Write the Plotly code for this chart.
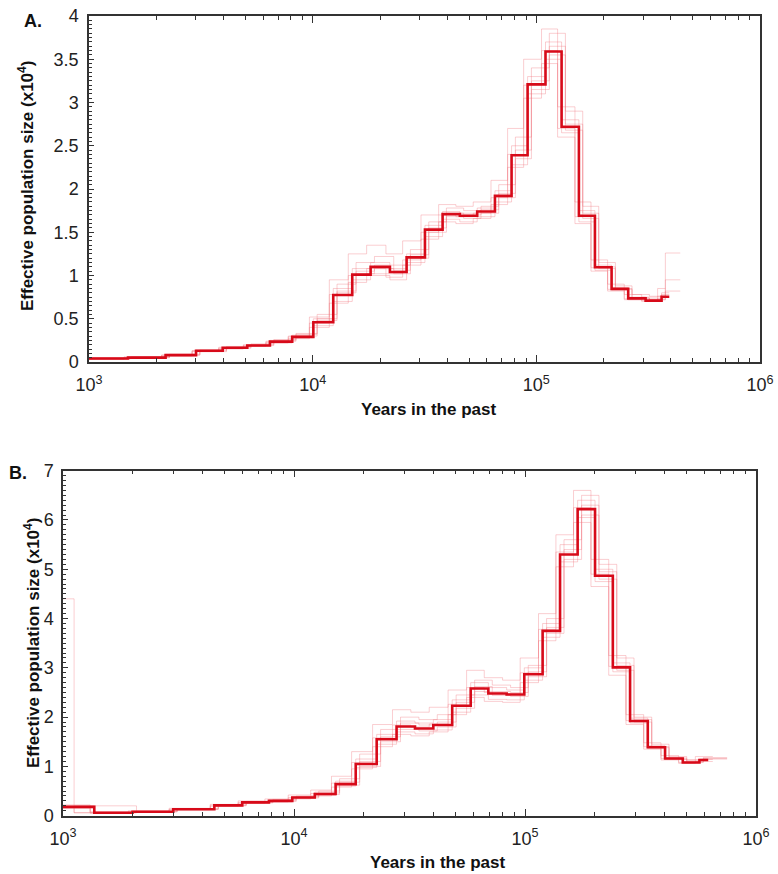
import plotly.graph_objects as go

# ---------------- Panel A data ----------------
times_a = [1000, 1494, 2200, 3010, 3960, 5100, 6440, 8100, 10070, 12360, 15030, 18160, 22150,
           26300, 31770, 38100, 45500, 54400, 65300, 77500, 91400, 109900, 129700, 155000,
           182800, 217000, 257500, 308000, 363000, 393000]
ne_a = [0.04, 0.05, 0.08, 0.13, 0.165, 0.19, 0.235, 0.29, 0.46, 0.775, 1.01, 1.10, 1.04, 1.21,
        1.53, 1.71, 1.69, 1.74, 1.92, 2.39, 3.21, 3.59, 2.72, 1.69, 1.095, 0.845, 0.736, 0.71, 0.755]

grid_a2 = [1000, 1550, 2290, 3130, 4120, 5300, 6700, 8420, 10470, 12850, 15630, 18890, 23040,
           27350, 33040, 39620, 47320, 56580, 67910, 80600, 95060, 114300, 134900, 161200,
           190100, 225700, 267800, 320300, 377500, 440000]
grid_a3 = [1000, 1434, 2112, 2890, 3800, 4900, 6180, 7780, 9670, 11870, 14430, 17430, 21260,
           25250, 30500, 36580, 43680, 52220, 62690, 74400, 87740, 105500, 124500, 148800,
           175500, 208300, 247200, 295700, 348500, 377300]

boot_a1 = [0.05,0.06,0.09,0.14,0.18,0.21,0.26,0.33,0.55,0.90,1.15,1.22,1.12,1.30,1.62,1.78,1.75,1.80,2.05,2.60,3.40,3.80,2.90,1.80,1.15,0.88,0.78,0.76,0.82]
boot_a2 = [0.03,0.05,0.07,0.12,0.15,0.18,0.22,0.27,0.40,0.68,0.92,1.02,0.98,1.12,1.42,1.62,1.60,1.66,1.82,2.25,3.05,3.45,2.60,1.60,1.05,0.82,0.72,0.70,0.74]
boot_a3 = [0.04,0.06,0.09,0.14,0.17,0.20,0.25,0.31,0.50,0.85,1.08,1.15,1.08,1.25,1.58,1.74,1.72,1.78,1.98,2.50,3.30,3.70,2.80,1.75,1.12,0.86,0.75,0.73,0.80]
boot_a4 = [0.04,0.05,0.08,0.12,0.16,0.19,0.24,0.30,0.48,0.80,1.02,1.08,1.02,1.20,1.50,1.68,1.66,1.72,1.90,2.35,3.15,3.55,2.68,1.66,1.08,0.84,0.74,0.72,1.26]
boot_a5 = [0.05,0.06,0.08,0.13,0.17,0.20,0.24,0.30,0.52,0.95,1.25,1.35,1.25,1.40,1.70,1.82,1.80,1.85,2.10,2.70,3.50,3.85,2.95,1.85,1.18,0.90,0.78,0.75,0.85]
boot_a6 = [0.03,0.04,0.07,0.12,0.16,0.18,0.22,0.28,0.42,0.70,0.95,1.00,0.95,1.15,1.45,1.65,1.62,1.68,1.85,2.28,3.10,3.50,2.65,1.62,1.06,0.83,0.72,0.70,0.78]
boot_a7 = [0.04,0.05,0.08,0.13,0.17,0.20,0.25,0.32,0.50,0.82,1.05,1.12,1.06,1.24,1.55,1.72,1.70,1.76,1.95,2.45,3.25,3.65,2.75,1.72,1.10,0.85,0.74,0.72,0.95]
boot_a8 = [0.04,0.05,0.08,0.13,0.16,0.19,0.23,0.29,0.45,0.78,1.00,1.08,1.02,1.18,1.50,1.70,1.68,1.72,1.90,2.40,3.20,3.60,2.70,1.68,1.09,0.84,0.73,0.71,0.76]

# ---------------- Panel B data ----------------
times_b = [1000, 1366, 2000, 3000, 4520, 5970, 7790, 9830, 12300, 15140, 18500, 22800, 27800,
           33400, 40100, 48400, 58200, 69400, 83300, 99300, 119200, 141800, 169000, 201000,
           240000, 285000, 340000, 404000, 482000, 569000, 621000]
ne_b = [0.18, 0.06, 0.08, 0.13, 0.21, 0.27, 0.30, 0.37, 0.44, 0.64, 1.05, 1.55, 1.81, 1.77, 1.84,
        2.23, 2.58, 2.48, 2.46, 2.87, 3.75, 5.30, 6.22, 4.87, 3.01, 1.92, 1.39, 1.16, 1.08, 1.13]

grid_b2 = [1000, 1117, 2080, 3120, 4700, 6210, 8100, 10220, 12790, 15750, 19240, 23710, 28910,
           34740, 41700, 50340, 60530, 72180, 86630, 103300, 124000, 147500, 175800, 209000,
           249600, 296400, 353600, 420200, 501300, 591800, 750000]
grid_b3 = [1000, 1311, 1920, 2880, 4340, 5730, 7480, 9440, 11810, 14530, 17760, 21890, 26690,
           32060, 38500, 46460, 55870, 66620, 79970, 95330, 114400, 136100, 162200, 193000,
           230400, 273600, 326400, 387800, 462700, 546200, 650000]

boot_b1 = [4.40,0.20,0.09,0.14,0.22,0.29,0.33,0.40,0.50,0.75,1.25,1.75,2.00,1.95,2.05,2.45,2.75,2.65,2.60,3.05,4.00,5.60,6.50,5.10,3.20,2.00,1.45,1.20,1.12,1.18]
boot_b2 = [0.15,0.05,0.07,0.12,0.19,0.25,0.28,0.34,0.40,0.58,0.95,1.40,1.65,1.62,1.70,2.05,2.40,2.32,2.30,2.70,3.55,5.05,5.95,4.65,2.85,1.85,1.35,1.13,1.06,1.10]
boot_b3 = [0.20,0.07,0.09,0.14,0.22,0.28,0.32,0.39,0.48,0.70,1.15,1.65,1.92,1.88,1.95,2.35,2.70,2.60,2.55,3.00,3.90,5.50,6.40,5.00,3.10,1.98,1.42,1.18,1.10,1.15]
boot_b4 = [0.17,0.06,0.08,0.13,0.20,0.26,0.29,0.36,0.43,0.62,1.00,1.50,1.75,1.72,1.80,2.18,2.52,2.44,2.42,2.82,3.70,5.20,6.10,4.80,2.95,1.90,1.38,1.15,1.08,1.15]
boot_b5 = [0.22,0.08,0.10,0.15,0.23,0.30,0.34,0.42,0.52,0.80,1.30,1.85,2.15,2.10,2.20,2.55,2.95,2.80,2.75,3.20,4.10,5.70,6.60,5.20,3.25,2.05,1.48,1.22,1.14,1.20]
boot_b6 = [0.16,0.05,0.07,0.12,0.19,0.25,0.28,0.35,0.41,0.60,0.98,1.45,1.70,1.66,1.74,2.10,2.45,2.36,2.35,2.75,3.62,5.15,6.05,4.75,2.92,1.88,1.36,1.14,1.07,1.12]
boot_b7 = [0.19,0.06,0.08,0.13,0.21,0.27,0.31,0.38,0.46,0.68,1.10,1.60,1.88,1.84,1.90,2.30,2.62,2.52,2.50,2.92,3.82,5.40,6.30,4.95,3.05,1.95,1.40,1.17,1.09,1.16]
boot_b8 = [0.18,0.06,0.08,0.13,0.21,0.27,0.30,0.37,0.45,0.66,1.08,1.58,1.84,1.80,1.86,2.26,2.60,2.50,2.48,2.90,3.78,5.35,6.25,4.90,3.03,1.93,1.40,1.16,1.08,1.14]

x_tickvals = [1000, 10000, 100000, 1000000]
x_ticktext = ["10<sup>3</sup>", "10<sup>4</sup>", "10<sup>5</sup>", "10<sup>6</sup>"]
ya_tickvals = [0, 0.5, 1, 1.5, 2, 2.5, 3, 3.5, 4]
ya_ticktext = ["0", "0.5", "1", "1.5", "2", "2.5", "3", "3.5", "4"]
yb_tickvals = [0, 1, 2, 3, 4, 5, 6, 7]
yb_ticktext = ["0", "1", "2", "3", "4", "5", "6", "7"]

FONT = "Liberation Sans, Arial, Helvetica, sans-serif"
MAIN_RED = "rgb(215,10,25)"
BOOT = "rgba(240,110,120,0.38)"

W, H = 778, 874
fig = go.Figure()


def step(x, y):
    return list(x), list(y) + [y[-1]]


boots_a = [(grid_a2, boot_a1), (grid_a3, boot_a2), (times_a, boot_a3), (grid_a2, boot_a4),
           (grid_a3, boot_a5), (times_a, boot_a6), (grid_a2, boot_a7), (grid_a3, boot_a8)]
for g, v in boots_a:
    xs, ys = step(g, v)
    fig.add_trace(go.Scatter(x=xs, y=ys, mode="lines", line=dict(color=BOOT, width=0.9, shape="hv"),
                             xaxis="x", yaxis="y", showlegend=False, hoverinfo="skip"))
xs, ys = step(times_a, ne_a)
fig.add_trace(go.Scatter(x=xs, y=ys, mode="lines", line=dict(color=MAIN_RED, width=2.6, shape="hv"),
                         xaxis="x", yaxis="y", showlegend=False))

boots_b = [(grid_b2, boot_b1), (grid_b3, boot_b2), (times_b, boot_b3), (grid_b2, boot_b4),
           (grid_b3, boot_b5), (times_b, boot_b6), (grid_b2, boot_b7), (grid_b3, boot_b8)]
for g, v in boots_b:
    xs, ys = step(g, v)
    fig.add_trace(go.Scatter(x=xs, y=ys, mode="lines", line=dict(color=BOOT, width=0.9, shape="hv"),
                             xaxis="x2", yaxis="y2", showlegend=False, hoverinfo="skip"))
xs, ys = step(times_b, ne_b)
fig.add_trace(go.Scatter(x=xs, y=ys, mode="lines", line=dict(color=MAIN_RED, width=2.6, shape="hv"),
                         xaxis="x2", yaxis="y2", showlegend=False))

AX = "#333333"
xcommon = dict(type="log", range=[3, 6], tickvals=x_tickvals, ticktext=x_ticktext,
               ticks="inside", ticklen=7, tickwidth=1, tickcolor=AX,
               showline=True, linecolor=AX, linewidth=1.5, mirror="ticks",
               showgrid=False, zeroline=False, ticklabelstandoff=6,
               minor=dict(ticks="inside", ticklen=4, tickcolor=AX, dtick="D1", showgrid=False),
               tickfont=dict(family=FONT, size=18, color="#222"), automargin=False)
ycommon = dict(ticks="inside", ticklen=5, tickwidth=1, tickcolor=AX,
               showline=True, linecolor=AX, linewidth=1.5, mirror=True,
               showgrid=False, zeroline=False,
               tickfont=dict(family=FONT, size=18, color="#222"), automargin=False)

fig.update_layout(
    width=W, height=H, margin=dict(l=0, r=0, t=0, b=0),
    paper_bgcolor="white", plot_bgcolor="white",
    xaxis=dict(xcommon, domain=[89 / W, 760 / W], anchor="y"),
    yaxis=dict(ycommon, domain=[1 - 362 / H, 1 - 16 / H], anchor="x", range=[0, 4],
               tickvals=ya_tickvals, ticktext=ya_ticktext, ticklabelstandoff=5,
               minor=dict(ticks="inside", ticklen=3, tickcolor=AX, dtick=0.05, showgrid=False)),
    xaxis2=dict(xcommon, domain=[63 / W, 756 / W], anchor="y2"),
    yaxis2=dict(ycommon, domain=[1 - 815.7 / H, 1 - 470.7 / H], anchor="x2", range=[0, 7],
                tickvals=yb_tickvals, ticktext=yb_ticktext, ticklabelstandoff=4,
                minor=dict(ticks="inside", ticklen=3, tickcolor=AX, dtick=0.1, showgrid=False)),
)

ytitle = "Effective population size (x10<sup>4</sup>)"
anns = [
    dict(text="<b>A.</b>", x=33 / W, y=1 - 21 / H, font=dict(size=18)),
    dict(text="<b>B.</b>", x=18 / W, y=1 - 473 / H, font=dict(size=18)),
    dict(text="<b>" + ytitle + "</b>", x=26 / W, y=1 - 186 / H, textangle=-90, font=dict(size=17)),
    dict(text="<b>" + ytitle + "</b>", x=32 / W, y=1 - 643 / H, textangle=-90, font=dict(size=17)),
    dict(text="<b>Years in the past</b>", x=429 / W, y=1 - 410 / H, font=dict(size=17)),
    dict(text="<b>Years in the past</b>", x=437 / W, y=1 - 862 / H, font=dict(size=17)),
]
for a in anns:
    a.update(xref="paper", yref="paper", showarrow=False, xanchor="center", yanchor="middle")
    a["font"].update(family=FONT, color="#111")
fig.update_layout(annotations=anns)

fig.write_html("out.html")
